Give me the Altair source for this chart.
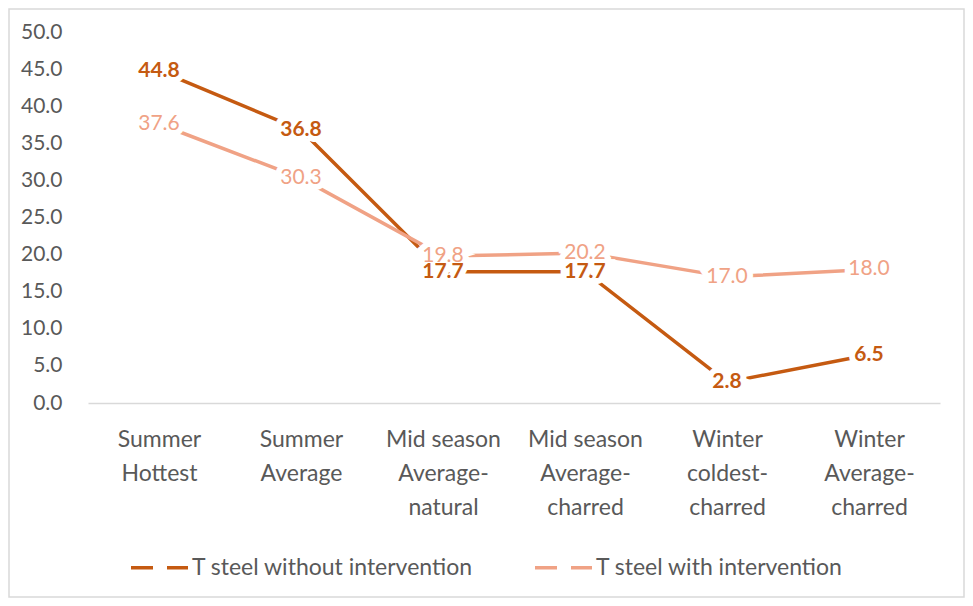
import altair as alt
import pandas as pd

categories = ["Summer\nHottest", "Summer\nAverage", "Mid season\nAverage-\nnatural",
              "Mid season\nAverage-\ncharred", "Winter\ncoldest-\ncharred", "Winter\nAverage-\ncharred"]
series_names = ["T steel without intervention", "T steel with intervention"]
without_vals = [44.8, 36.8, 17.7, 17.7, 2.8, 6.5]
with_vals = [37.6, 30.3, 19.8, 20.2, 17.0, 18.0]
y_ticks = [0, 5, 10, 15, 20, 25, 30, 35, 40, 45, 50]

DARK = "#C55A11"
LIGHT = "#F0A285"
FONT = "Lato"

rows = []
for i, c in enumerate(categories):
    rows.append({"cat": c, "series": series_names[0], "value": without_vals[i]})
    rows.append({"cat": c, "series": series_names[1], "value": with_vals[i]})
df = pd.DataFrame(rows)

W, H = 852, 371

x = alt.X("cat:N", sort=categories, title=None,
          axis=alt.Axis(labelExpr="split(datum.label, '\\n')", labelAngle=0,
                        labelFontSize=23, labelColor="#595959", labelFont=FONT,
                        labelLineHeight=34, labelPadding=25, labelLimit=300,
                        ticks=False, domainColor="#D9D9D9", domainWidth=1.5,
                        grid=False))
y = alt.Y("value:Q", title=None, scale=alt.Scale(domain=[0, 50]),
          axis=alt.Axis(values=y_ticks, format=".1f", labelFontSize=21,
                        labelColor="#595959", labelFont=FONT, labelPadding=26,
                        ticks=False, domain=False, grid=False))
color = alt.Color("series:N", sort=series_names,
                  scale=alt.Scale(domain=series_names, range=[DARK, LIGHT]),
                  legend=alt.Legend(title=None, orient="none", direction="horizontal",
                                    legendX=41, legendY=505, symbolType="stroke",
                                    symbolSize=3249, symbolStrokeWidth=3.5,
                                    symbolDash=[22, 14], labelFontSize=23,
                                    labelFont=FONT, labelColor="#595959",
                                    labelOffset=2, columnPadding=54, labelLimit=400))

base = alt.Chart(df)

border = alt.Chart(pd.DataFrame({"v": [0]})).mark_rect(
    fill=None, stroke="#D9D9D9", strokeWidth=1.5).encode(
    x=alt.value(-79), x2=alt.value(876), y=alt.value(-23), y2=alt.value(565))

lines = base.mark_line(strokeWidth=3.5).encode(x=x, y=y, color=color,
                                                order=alt.Order("series:N"))

def labels(name, col, weight):
    sub = base.transform_filter(alt.datum.series == name)
    halo = sub.mark_text(fontSize=21, font=FONT, fontWeight=weight, color="white",
                         stroke="white", strokeWidth=12, baseline="middle").encode(
        x=x, y=y, text=alt.Text("value:Q", format=".1f"))
    txt = sub.mark_text(fontSize=21, font=FONT, fontWeight=weight, color=col,
                        baseline="middle").encode(
        x=x, y=y, text=alt.Text("value:Q", format=".1f"))
    return halo, txt

h1, t1 = labels(series_names[0], DARK, "bold")
h2, t2 = labels(series_names[1], LIGHT, "normal")

chart = alt.layer(border, lines, h2, h1, t2, t1).properties(
    width=W, height=H, autosize=alt.AutoSizeParams(type="none"),
    padding={"left": 80, "top": 24, "right": 25, "bottom": 195},
    background="white"
).configure_view(stroke=None)

chart.save("out.html", embed_options={"renderer": "svg", "actions": False})
